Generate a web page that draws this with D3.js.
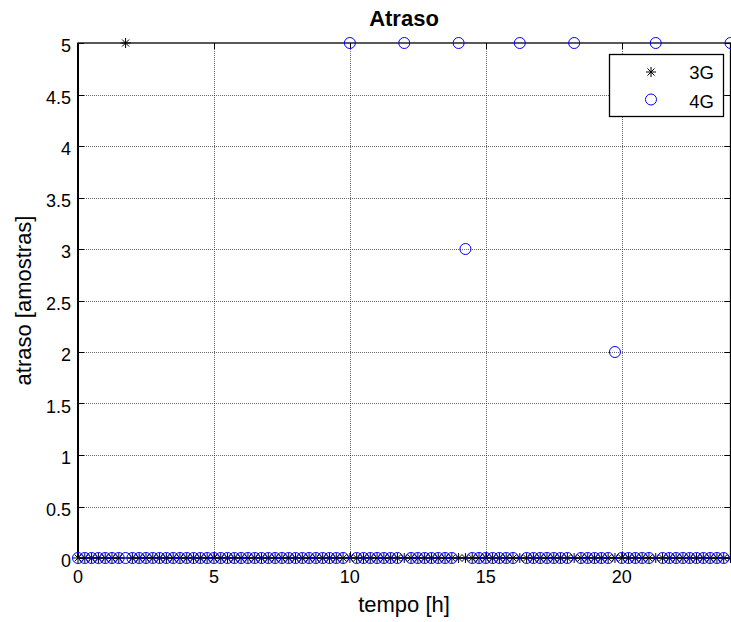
<!DOCTYPE html>
<html>
<head>
<meta charset="utf-8">
<script src="https://cdn.jsdelivr.net/npm/d3@7"></script>
<style>
  body { margin: 0; background: #fff; }
  svg { font-family: "Liberation Sans", Arial, sans-serif; }
</style>
</head>
<body>
<div id="chart"></div>
<script>
// sample times [h], one every 15 min
var tempo = [
  0, 0.25, 0.5, 0.75, 1, 1.25, 1.5, 1.75, 2, 2.25, 2.5, 2.75,
  3, 3.25, 3.5, 3.75, 4, 4.25, 4.5, 4.75, 5, 5.25, 5.5, 5.75,
  6, 6.25, 6.5, 6.75, 7, 7.25, 7.5, 7.75, 8, 8.25, 8.5, 8.75,
  9, 9.25, 9.5, 9.75, 10, 10.25, 10.5, 10.75, 11, 11.25, 11.5, 11.75,
  12, 12.25, 12.5, 12.75, 13, 13.25, 13.5, 13.75, 14, 14.25, 14.5, 14.75,
  15, 15.25, 15.5, 15.75, 16, 16.25, 16.5, 16.75, 17, 17.25, 17.5, 17.75,
  18, 18.25, 18.5, 18.75, 19, 19.25, 19.5, 19.75, 20, 20.25, 20.5, 20.75,
  21, 21.25, 21.5, 21.75, 22, 22.25, 22.5, 22.75, 23, 23.25, 23.5, 23.75,
  24
];
var atraso3G = [
  0, 0, 0, 0, 0, 0, 0, 5, 0, 0, 0, 0,
  0, 0, 0, 0, 0, 0, 0, 0, 0, 0, 0, 0,
  0, 0, 0, 0, 0, 0, 0, 0, 0, 0, 0, 0,
  0, 0, 0, 0, 0, 0, 0, 0, 0, 0, 0, 0,
  0, 0, 0, 0, 0, 0, 0, 0, 0, 0, 0, 0,
  0, 0, 0, 0, 0, 0, 0, 0, 0, 0, 0, 0,
  0, 0, 0, 0, 0, 0, 0, 0, 0, 0, 0, 0,
  0, 0, 0, 0, 0, 0, 0, 0, 0, 0, 0, 0,
  0
];
var atraso4G = [
  0, 0, 0, 0, 0, 0, 0, 0, 0, 0, 0, 0,
  0, 0, 0, 0, 0, 0, 0, 0, 0, 0, 0, 0,
  0, 0, 0, 0, 0, 0, 0, 0, 0, 0, 0, 0,
  0, 0, 0, 0, 5, 0, 0, 0, 0, 0, 0, 0,
  5, 0, 0, 0, 0, 0, 0, 0, 5, 3, 0, 0,
  0, 0, 0, 0, 0, 5, 0, 0, 0, 0, 0, 0,
  0, 5, 0, 0, 0, 0, 0, 2, 0, 0, 0, 0,
  0, 5, 0, 0, 0, 0, 0, 0, 0, 0, 0, 0,
  5
];
var xTicks = [0, 5, 10, 15, 20];
var yTicks = [0, 0.5, 1, 1.5, 2, 2.5, 3, 3.5, 4, 4.5, 5];
var series = ["3G", "4G"];

var width = 731,
    height = 622,
    margin = {top: 43, right: 0, bottom: 64, left: 78};

var svg = d3.select("#chart").append("svg")
    .attr("width", width)
    .attr("height", height);

var x = d3.scaleLinear().domain([0, 24]).range([margin.left, 730.5]);
var y = d3.scaleLinear().domain([0, 5]).range([height - margin.bottom, margin.top]);

// grid (dotted)
svg.append("g").selectAll("line")
  .data(xTicks.slice(1))
  .enter().append("line")
  .attr("x1", function(d) { return Math.round(x(d)) + 0.5; })
  .attr("x2", function(d) { return Math.round(x(d)) + 0.5; })
  .attr("y1", y(5)).attr("y2", y(0))
  .style("stroke", "#000").style("stroke-dasharray", "1,1").style("stroke-width", 0.6);

svg.append("g").selectAll("line")
  .data(yTicks.slice(1, -1))
  .enter().append("line")
  .attr("y1", function(d) { return Math.round(y(d)) + 0.5; })
  .attr("y2", function(d) { return Math.round(y(d)) + 0.5; })
  .attr("x1", x(0)).attr("x2", x(24))
  .style("stroke", "#000").style("stroke-dasharray", "1,1").style("stroke-width", 0.6);

// box
svg.append("rect")
  .attr("x", x(0)).attr("y", y(5))
  .attr("width", x(24) - x(0)).attr("height", y(0) - y(5))
  .style("fill", "none").style("stroke", "#000").style("stroke-width", 1.3);
svg.append("line")
  .attr("x1", x(0)).attr("x2", x(0)).attr("y1", y(5)).attr("y2", y(0))
  .style("stroke", "#000").style("stroke-width", 2);

// inward ticks
var tl = 6;
xTicks.forEach(function(d) {
  var xx = Math.round(x(d)) + 0.5;
  svg.append("line").attr("x1", xx).attr("x2", xx).attr("y1", y(0)).attr("y2", y(0) - tl).style("stroke", "#000");
  svg.append("line").attr("x1", xx).attr("x2", xx).attr("y1", y(5)).attr("y2", y(5) + tl).style("stroke", "#000");
});
yTicks.forEach(function(d) {
  var yy = Math.round(y(d)) + 0.5;
  svg.append("line").attr("y1", yy).attr("y2", yy).attr("x1", x(0)).attr("x2", x(0) + tl).style("stroke", "#000");
  svg.append("line").attr("y1", yy).attr("y2", yy).attr("x1", x(24)).attr("x2", x(24) - tl).style("stroke", "#000");
});

// tick labels
svg.append("g").selectAll("text")
  .data(xTicks).enter().append("text")
  .attr("x", function(d) { return x(d); })
  .attr("y", y(0) + 25)
  .attr("text-anchor", "middle")
  .style("font-size", "18px")
  .text(function(d) { return d; });

svg.append("g").selectAll("text")
  .data(yTicks).enter().append("text")
  .attr("x", 71)
  .attr("y", function(d) { return y(d) + 9; })
  .attr("text-anchor", "end")
  .style("font-size", "18px")
  .text(function(d) { return d; });

// labels + title
svg.append("text")
  .attr("x", 404).attr("y", 26)
  .attr("text-anchor", "middle")
  .style("font-size", "22px").style("font-weight", "bold")
  .text("Atraso");

svg.append("text")
  .attr("x", 404).attr("y", 612)
  .attr("text-anchor", "middle")
  .style("font-size", "22px")
  .text("tempo [h]");

svg.append("text")
  .attr("transform", "translate(31," + ((y(0) + y(5)) / 2) + ") rotate(-90)")
  .attr("text-anchor", "middle")
  .style("font-size", "22px")
  .text("atraso [amostras]");

// markers
var s = 5;
function star(g) {
  g.append("path")
    .attr("d", "M" + (-s) + ",0H" + s + "M0," + (-s) + "V" + s +
      "M" + (-s * 0.7) + "," + (-s * 0.7) + "L" + (s * 0.7) + "," + (s * 0.7) +
      "M" + (-s * 0.7) + "," + (s * 0.7) + "L" + (s * 0.7) + "," + (-s * 0.7))
    .style("stroke", "#000").style("stroke-width", 1).style("fill", "none");
}

var pts3G = tempo.map(function(t, i) { return {t: t, v: atraso3G[i]}; });
var pts4G = tempo.map(function(t, i) { return {t: t, v: atraso4G[i]}; });

svg.append("g").selectAll("g")
  .data(pts3G).enter().append("g")
  .attr("transform", function(d) { return "translate(" + x(d.t) + "," + y(d.v) + ")"; })
  .call(star);

svg.append("g").selectAll("circle")
  .data(pts4G).enter().append("circle")
  .attr("cx", function(d) { return x(d.t); })
  .attr("cy", function(d) { return y(d.v); })
  .attr("r", 5.5)
  .style("fill", "none").style("stroke", "#0000ff").style("stroke-width", 1);

// legend
var lg = svg.append("g").attr("transform", "translate(609,54)");
lg.append("rect").attr("x", 0.5).attr("y", 0.5).attr("width", 114).attr("height", 62)
  .style("fill", "#fff").style("stroke", "#000").style("stroke-width", 1.3);
lg.append("g").attr("transform", "translate(42,18)").call(star);
lg.append("circle").attr("cx", 42).attr("cy", 45.5).attr("r", 5.5)
  .style("fill", "none").style("stroke", "#0000ff");
lg.selectAll("text.lbl")
  .data(series).enter().append("text")
  .attr("x", 105)
  .attr("y", function(d, i) { return 25 + i * 28.5; })
  .attr("text-anchor", "end")
  .style("font-size", "18.5px")
  .text(function(d) { return d; });
</script>
</body>
</html>
